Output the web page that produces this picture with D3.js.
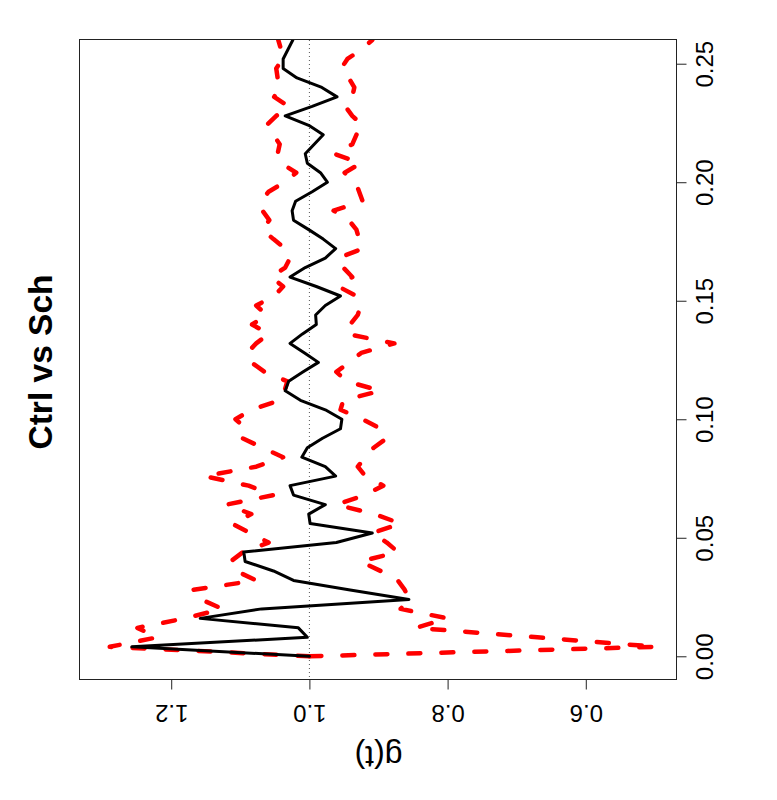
<!DOCTYPE html>
<html>
<head>
<meta charset="utf-8">
<script src="https://cdn.jsdelivr.net/npm/d3@7"></script>
<style>
  html, body { margin: 0; padding: 0; background: #fff; }
  svg { display: block; }
  text { font-family: "Liberation Sans", Arial, Helvetica, sans-serif; }
</style>
</head>
<body>
<svg id="chart" width="777" height="800"></svg>
<script>
// ---- data ----
const tVals = [0,0.004,0.008,0.012,0.016,0.02,0.024,0.028,0.032,0.036,
  0.04,0.044,0.048,0.052,0.056,0.06,0.064,0.068,0.072,0.076,
  0.08,0.084,0.088,0.092,0.096,0.1,0.104,0.108,0.112,0.116,
  0.12,0.124,0.128,0.132,0.136,0.14,0.144,0.148,0.152,0.156,
  0.16,0.164,0.168,0.172,0.176,0.18,0.184,0.188,0.192,0.196,
  0.2,0.204,0.208,0.212,0.216,0.22,0.224,0.228,0.232,0.236,
  0.24,0.244,0.248,0.252,0.256,0.26];

const gObs = [1.000,1.257,1.003,1.016,1.158,1.069,0.856,0.941,1.023,1.052,
  1.093,1.095,0.961,0.909,0.999,1.001,0.977,1.023,1.028,0.962,
  0.977,1.011,1.003,0.981,0.955,0.953,0.977,1.013,1.035,1.030,
  1.009,0.987,1.007,1.028,1.010,0.990,0.991,0.977,0.955,0.990,
  1.028,1.006,0.977,0.962,0.980,1.001,1.023,1.025,1.020,0.996,
  0.974,0.984,1.003,1.006,0.993,0.980,1.001,1.035,0.996,0.960,
  0.982,1.018,1.038,1.038,1.031,1.024];

const gHi = [1.000,1.289,1.220,1.249,1.180,1.126,1.157,1.170,1.077,1.106,
  1.114,1.096,1.059,1.086,1.112,1.084,1.120,1.052,1.088,1.152,
  1.077,1.038,1.068,1.097,1.091,1.107,1.084,1.043,1.036,1.032,
  1.065,1.084,1.090,1.077,1.059,1.083,1.062,1.077,1.051,1.038,
  1.055,1.035,1.028,1.035,1.052,1.068,1.058,1.068,1.070,1.059,
  1.036,1.019,1.041,1.046,1.043,1.052,1.062,1.048,1.030,1.051,
  1.042,1.046,1.048,1.039,1.041,1.045];

const gLo = [1.000,0.497,0.670,0.846,0.800,0.868,0.855,0.862,0.872,0.897,
  0.926,0.872,0.888,0.909,0.868,0.906,0.961,0.920,0.893,0.919,
  0.930,0.919,0.907,0.888,0.897,0.923,0.955,0.951,0.897,0.946,
  0.961,0.942,0.925,0.877,0.946,0.941,0.930,0.926,0.932,0.958,
  0.938,0.951,0.958,0.923,0.928,0.932,0.943,0.965,0.923,0.928,
  0.933,0.949,0.926,0.964,0.938,0.932,0.923,0.938,0.948,0.938,
  0.935,0.943,0.954,0.945,0.925,0.909];

const tTicks = [0, 0.05, 0.10, 0.15, 0.20, 0.25];
const tTickLabels = ["0.00", "0.05", "0.10", "0.15", "0.20", "0.25"];
const gTicks = [0.6, 0.8, 1.0, 1.2];
const gTickLabels = ["0.6", "0.8", "1.0", "1.2"];
const refLine = 1.0;
const titleText = "Ctrl vs Sch";
const gLabel = "g(t)";

// ---- layout (rotated R plot: t runs upward, g runs leftward) ----
const box = { left: 80, right: 677, top: 40, bottom: 680 };
const svg = d3.select("#chart");
svg.append("rect").attr("width", 777).attr("height", 800).attr("fill", "#fff");

const ty = d3.scaleLinear().domain([-0.01, 0.26]).range([box.bottom, box.top]);
const gx = d3.scaleLinear().domain([1.332, 0.468]).range([box.left, box.right]);

svg.append("defs").append("clipPath").attr("id", "plotclip")
  .append("rect")
  .attr("x", box.left).attr("y", box.top)
  .attr("width", box.right - box.left).attr("height", box.bottom - box.top);

const plot = svg.append("g").attr("clip-path", "url(#plotclip)");

// reference dotted line g = 1
plot.append("line")
  .attr("x1", gx(refLine)).attr("x2", gx(refLine))
  .attr("y1", box.top).attr("y2", box.bottom)
  .attr("stroke", "#555").attr("stroke-width", 1)
  .attr("stroke-dasharray", "1,3");

const mkLine = vals => d3.line()
  .x((d, i) => gx(vals[i]))
  .y((d, i) => ty(tVals[i]))(tVals);

// envelopes (red dashed)
[gHi, gLo].forEach(vals => {
  plot.append("path")
    .attr("d", mkLine(vals))
    .attr("fill", "none")
    .attr("stroke", "#ff0000")
    .attr("stroke-width", 4.5)
    .attr("stroke-linecap", "round")
    .attr("stroke-linejoin", "round")
    .attr("stroke-dasharray", "12,21");
});

// observed (black)
plot.append("path")
  .attr("d", mkLine(gObs))
  .attr("fill", "none")
  .attr("stroke", "#000")
  .attr("stroke-width", 3)
  .attr("stroke-linejoin", "round")
  .attr("stroke-linecap", "round");

// box
svg.append("rect")
  .attr("x", box.left - 0.5).attr("y", box.top - 0.5)
  .attr("width", box.right - box.left).attr("height", box.bottom - box.top)
  .attr("fill", "none").attr("stroke", "#222").attr("stroke-width", 1);

// t axis (right side)
const tAxis = d3.axisRight(ty)
  .tickValues(tTicks)
  .tickFormat((d, i) => tTickLabels[i])
  .tickSize(10);
const tg = svg.append("g").attr("transform", `translate(${box.right - 0.5},0)`).call(tAxis);
tg.select(".domain").remove();
tg.selectAll(".tick line").attr("stroke", "#222");
tg.selectAll(".tick text")
  .attr("x", null).attr("dy", null)
  .attr("transform", "translate(36,0) rotate(-90)")
  .attr("text-anchor", "middle")
  .attr("font-size", 24)
  .attr("font-family", "'Liberation Sans', Arial, Helvetica, sans-serif")
  .attr("fill", "#000");

// g axis (bottom)
const gAxis = d3.axisBottom(gx)
  .tickValues(gTicks)
  .tickFormat((d, i) => gTickLabels[i])
  .tickSize(10);
const gg = svg.append("g").attr("transform", `translate(0,${box.bottom - 0.5})`).call(gAxis);
gg.select(".domain").remove();
gg.selectAll(".tick line").attr("stroke", "#222");
gg.selectAll(".tick text")
  .attr("y", null).attr("dy", null)
  .attr("transform", "translate(0,25) rotate(180)")
  .attr("text-anchor", "middle")
  .attr("font-size", 24)
  .attr("font-family", "'Liberation Sans', Arial, Helvetica, sans-serif")
  .attr("fill", "#000");

// axis label g(t), upside down
svg.append("text")
  .attr("transform", `translate(${(box.left + box.right) / 2},746) rotate(180)`)
  .attr("text-anchor", "middle")
  .attr("font-size", 32)
  .attr("fill", "#000")
  .text(gLabel);

// title, reading bottom-to-top
svg.append("text")
  .attr("transform", `translate(52,${(box.top + box.bottom) / 2 + 2}) rotate(-90)`)
  .attr("text-anchor", "middle")
  .attr("font-size", 33.5)
  .attr("font-weight", "bold")
  .attr("fill", "#000")
  .text(titleText);
</script>
</body>
</html>
